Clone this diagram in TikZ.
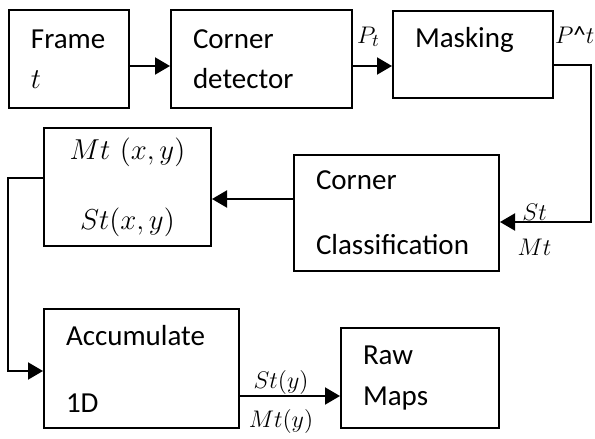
\documentclass[tikz,border=0pt]{standalone}
\usepackage{fontspec}
\setmainfont{Carlito}
\usetikzlibrary{arrows.meta, positioning}

\begin{document}
\begin{tikzpicture}
	[x=0.5pt, y=-0.5pt, node distance=20pt, line width=1pt,
	>={Triangle[length=7.5pt,width=8.5pt]},
	block/.style={rectangle, draw, line width=1pt, align=left, inner xsep=11pt, inner ysep=0pt, font=\fontsize{14.5}{17.5}\selectfont},
	lbl/.style={font=\fontsize{12.5}{15}\selectfont, inner sep=1pt}
	]
	\useasboundingbox (0,0) rectangle (595,439);

	% Nodes
	\node[block, anchor=north west, text width=38pt, minimum height=49pt] (frame) at (8,9) {Frame\\[2.5pt]$t$};
	\node[block, right=of frame, text width=68.5pt, minimum height=49pt] (detector) {Corner\\[2.5pt]detector};
	\node[block, anchor=north west, text width=58pt, minimum height=43.5pt] (masking) at (392,10) {Masking\\~};
	\node[block, anchor=north west, text width=80.5pt, minimum height=58pt] (classif) at (293,154) {Corner\\[15pt]Classification};
	\node[block, anchor=north west, text width=61.5pt, minimum height=59pt, align=center] (mtst) at (43,127) {$Mt$ $(x,y)$\\[17.5pt]$St(x,y)$};
	\node[block, anchor=north west, text width=75.5pt, minimum height=59.5pt] (accum) at (43,308) {Accumulate\\[16pt]1D};
	\node[block, anchor=north west, text width=57pt, minimum height=50pt] (raw) at (340,327) {Raw\\[3pt]Maps};

	% Arrows
	\draw[->] ([yshift=-3.5pt]frame.east) -- ([yshift=-3.5pt]detector.west);
	\draw[->] ([yshift=-3.5pt]detector.east) -- ([yshift=-3.5pt]detector.east -| masking.west) node[lbl, midway, above=8pt, xshift=-2pt] {$P_t$};
	\draw[->] ([yshift=-5.25pt]masking.east) node[lbl, anchor=south west, inner sep=0pt, yshift=10.5pt] {$P$\textasciicircum$t$}
		-- ++(18.5pt,0) |- ([yshift=-4.5pt]classif.east)
		node[lbl, pos=0.81, above, inner sep=0.5pt] {$St$}
		node[lbl, pos=0.81, below=7pt] {$Mt$};
	\draw[->] ([yshift=7pt]classif.west) -- ([yshift=7pt]classif.west -| mtst.east);
	\draw[->] ([yshift=4.5pt]mtst.west) -- ++(-17.5pt,0) |- ([yshift=-1.25pt]accum.west);
	\draw[->] ([yshift=-13.75pt]accum.east) -- ([yshift=-13.75pt]accum.east -| raw.west)
		node[lbl, midway, above, inner sep=0.5pt, xshift=-4.5pt] {$St(y)$}
		node[lbl, midway, below=5pt, xshift=-4.5pt] {$Mt(y)$};
\end{tikzpicture}
\end{document}
